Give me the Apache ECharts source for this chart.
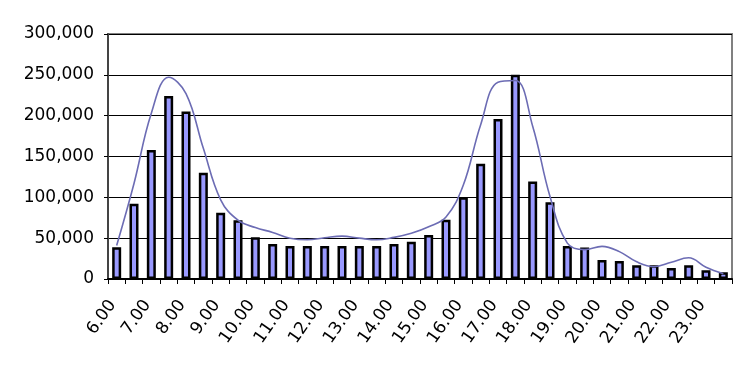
<!DOCTYPE html>
<html>
<head>
<meta charset="utf-8">
<script src="https://cdn.jsdelivr.net/npm/echarts@6/dist/echarts.min.js"></script>
<style>html,body{margin:0;padding:0;background:#fff}#c{width:749px;height:371px}</style>
</head>
<body>
<div id="c"></div>
<script>
const categories = ['6.00','6.30','7.00','7.30','8.00','8.30','9.00','9.30','10.00','10.30','11.00','11.30','12.00','12.30','13.00','13.30','14.00','14.30','15.00','15.30','16.00','16.30','17.00','17.30','18.00','18.30','19.00','19.30','20.00','20.30','21.00','21.30','22.00','22.30','23.00','23.30'];
const barValues = [39000,92000,158000,224000,205000,130000,81000,72000,51000,43000,40500,40500,40500,40500,40500,40500,43000,45500,54000,72500,100000,141000,196000,250000,119500,94000,40500,38500,23300,22000,16800,16800,13500,16800,10600,8200];
const curveValues = [41000,117000,203000,247000,227000,160000,97000,72000,63000,57000,50000,48000,50500,52500,50000,48000,51000,56000,64000,76000,115000,189000,241000,243000,187000,101000,44000,36000,40000,33500,21000,15000,20500,26000,14500,6500];
const yTicks = {min: 0, max: 300000, interval: 50000};

const chart = echarts.init(document.getElementById('c'), null, {renderer: 'canvas'});
chart.setOption({
  animation: false,
  backgroundColor: '#ffffff',
  grid: {left: 108, right: 17, top: 34, bottom: 92, show: true, borderColor: '#808080', borderWidth: 2, backgroundColor: 'transparent'},
  xAxis: {
    type: 'category',
    data: categories,
    boundaryGap: true,
    axisLine: {lineStyle: {color: '#000', width: 2}},
    axisTick: {show: true, interval: 0, length: 5, lineStyle: {color: '#000', width: 1}},
    axisLabel: {interval: 1, rotate: 55, margin: 17, padding: [0, 7, 0, 0], color: '#000', fontFamily: 'DejaVu Sans', fontSize: 17}
  },
  yAxis: {
    type: 'value',
    min: yTicks.min, max: yTicks.max, interval: yTicks.interval,
    axisLine: {show: true, lineStyle: {color: '#444', width: 2}},
    axisTick: {show: true, length: 4, lineStyle: {color: '#000'}},
    splitLine: {show: true, lineStyle: {color: '#000', width: 1}},
    axisLabel: {margin: 14, color: '#000', fontFamily: 'DejaVu Sans', fontSize: 17}
  },
  series: [
    {type: 'bar', data: barValues, barWidth: 9,
     itemStyle: {color: '#9999ff', borderColor: '#000', borderWidth: 2.5}},
    {type: 'line', data: curveValues, smooth: 0.4, showSymbol: false, symbol: 'none',
     lineStyle: {color: '#6c6cb4', width: 1.6}, z: 3}
  ]
});
</script>
</body>
</html>
